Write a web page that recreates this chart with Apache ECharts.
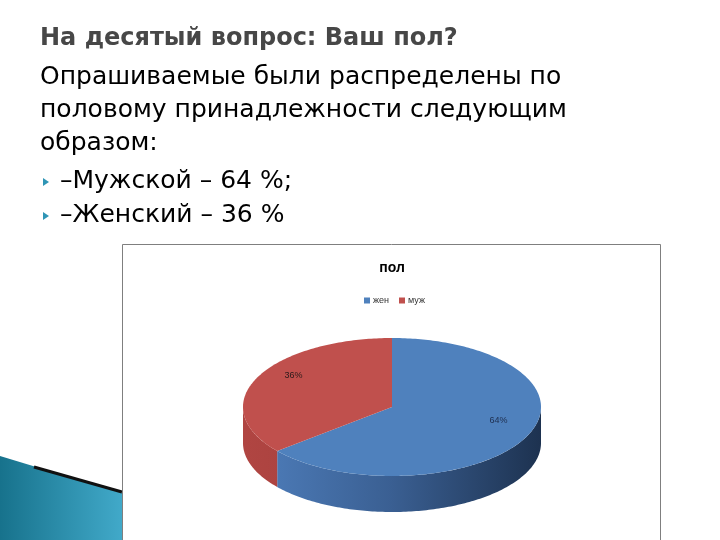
<!DOCTYPE html>
<html>
<head>
<meta charset="utf-8">
<script src="https://cdn.jsdelivr.net/npm/echarts@6/dist/echarts.min.js"></script>
<style>
    html, body { margin: 0; padding: 0; background: #fff; }
    #chart { width: 720px; height: 540px; }
</style>
</head>
<body>
<div id="chart"></div>
<script>
const slideTitle = "На десятый вопрос: Ваш пол?";
const bodyLines = ["Опрашиваемые были распределены по", "половому принадлежности следующим", "образом:"];
const bulletLines = ["–Мужской – 64 %;", "–Женский – 36 %"];

const chartTitle = "пол";
const categories = ["жен", "муж"];
const values = [64, 36];

const sliceColors = ["#4f81bd", "#c0504d"];
const sideColors = [
    ["#4f7fbd", "#3a5f92", "#1d3250"],
    ["#b04542", "#a33e3b", "#953835"]
];

// pie geometry (top face ellipse)
const CX = 392, CY = 407, RX = 149, RY = 69, DEPTH = 36;

const total = values.reduce((a, b) => a + b, 0);

function pt(deg, dz) {
    const r = deg * Math.PI / 180;
    return [CX + RX * Math.cos(r), CY - RY * Math.sin(r) + dz];
}

function arc(from, to, dz) {
    // from > to, clockwise
    const pts = [];
    const steps = Math.max(2, Math.ceil(from - to));
    for (let s = 0; s <= steps; s++) {
        pts.push(pt(from - (from - to) * s / steps, dz));
    }
    return pts;
}

function makeSlice(i) {
    return function (params, api) {
        const before = values.slice(0, i).reduce((a, b) => a + b, 0);
        const start = 90 - 360 * before / total;
        const end = start - 360 * values[i] / total;
        const children = [];

        // visible side wall: parts of the arc in the lower half
        for (let k = -1; k <= 1; k++) {
            const lo = Math.max(end, -180 + 360 * k);
            const hi = Math.min(start, 360 * k);
            if (lo < hi) {
                const topArc = arc(hi, lo, 0);
                const botArc = arc(hi, lo, DEPTH).reverse();
                children.push({
                    type: "polygon",
                    shape: { points: topArc.concat(botArc) },
                    style: {
                        fill: new echarts.graphic.LinearGradient(CX - RX, 0, CX + RX, 0, [
                            { offset: 0, color: sideColors[i][0] },
                            { offset: 0.5, color: sideColors[i][1] },
                            { offset: 1, color: sideColors[i][2] }
                        ], true)
                    }
                });
            }
        }

        // top face
        children.push({
            type: "polygon",
            shape: { points: [[CX, CY]].concat(arc(start, end, 0)) },
            style: { fill: sliceColors[i] }
        });

        // label
        const mid = (start + end) / 2 * Math.PI / 180;
        children.push({
            type: "text",
            x: CX + 0.76 * RX * Math.cos(mid) + 4,
            y: CY - 0.76 * RY * Math.sin(mid) - 9,
            style: {
                text: Math.round(values[i] / total * 100) + "%",
                fontSize: 9,
                fontFamily: "Liberation Sans",
                fill: i === 0 ? "#1f2f4f" : "#2a1a1a",
                align: "center",
                verticalAlign: "middle"
            }
        });

        return { type: "group", children: children };
    };
}

const chart = echarts.init(document.getElementById("chart"));

const graphics = [
    // bottom-left decoration
    {
        type: "polygon",
        z: 1,
        shape: { points: [[0, 456], [122, 493], [122, 540], [0, 540]] },
        style: {
            fill: new echarts.graphic.LinearGradient(0, 0, 1, 0, [
                { offset: 0, color: "#17728c" },
                { offset: 1, color: "#41a9c9" }
            ])
        }
    },
    {
        type: "polyline",
        z: 2,
        shape: { points: [[34, 467], [122, 492]] },
        style: { stroke: "#111", lineWidth: 3 }
    },
    // chart box
    {
        type: "rect",
        z: 3,
        shape: { x: 122.5, y: 244.5, width: 538, height: 310 },
        style: { fill: "#fff", stroke: "#7f7f7f", lineWidth: 1 }
    },
    {
        type: "text",
        z: 4,
        x: 40,
        y: 39,
        style: {
            text: slideTitle,
            fontSize: 24,
            fontWeight: "bold",
            fontFamily: "DejaVu Sans",
            fill: "#474747",
            verticalAlign: "middle"
        }
    },
    {
        type: "text",
        z: 4,
        x: 392,
        y: 268,
        style: {
            text: chartTitle,
            fontSize: 14,
            fontWeight: "bold",
            fontFamily: "Liberation Sans",
            fill: "#000",
            align: "center",
            verticalAlign: "middle"
        }
    }
];

bodyLines.forEach((line, i) => {
    graphics.push({
        type: "text",
        z: 4,
        x: 40,
        y: 77 + i * 33,
        style: {
            text: line,
            fontSize: 25,
            fontFamily: "DejaVu Sans",
            fill: "#000",
            verticalAlign: "middle"
        }
    });
});

bulletLines.forEach((line, i) => {
    const y = 181 + i * 34;
    graphics.push({
        type: "polygon",
        z: 4,
        shape: { points: [[43, y - 3], [49, y + 1], [43, y + 5]] },
        style: { fill: "#2f95b5" }
    });
    graphics.push({
        type: "text",
        z: 4,
        x: 60,
        y: y,
        style: {
            text: line,
            fontSize: 25,
            fontFamily: "DejaVu Sans",
            fill: "#000",
            verticalAlign: "middle"
        }
    });
});

chart.setOption({
    animation: false,
    graphic: graphics,
    legend: {
        data: categories,
        left: 359,
        top: 291,
        icon: "rect",
        itemWidth: 6,
        itemHeight: 6,
        itemGap: 10,
        z: 10,
        textStyle: { fontSize: 9, fontFamily: "Liberation Sans", color: "#333", padding: [0, 0, 0, -2] }
    },
    series: categories.map((name, i) => ({
        type: "custom",
        name: name,
        coordinateSystem: "none",
        z: 10,
        itemStyle: { color: sliceColors[i] },
        data: [values[i]],
        renderItem: makeSlice(i)
    }))
});

window.addEventListener("resize", () => chart.resize());
</script>
</body>
</html>
